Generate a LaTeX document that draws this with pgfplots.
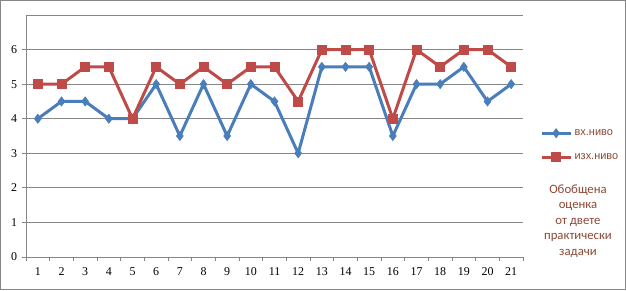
\documentclass[border=0pt]{standalone}
\usepackage{fontspec}
\setmainfont{Liberation Serif}
\newfontfamily\legfont{Liberation Sans}
\newfontfamily\titfont{Carlito}
\usepackage{pgfplots}
\pgfplotsset{compat=1.18}
\definecolor{sblue}{HTML}{4A7EBB}
\definecolor{sred}{HTML}{BE4B48}
\definecolor{gridg}{RGB}{134,134,134}
\definecolor{txtbrown}{RGB}{140,72,52}
\begin{document}
\begin{tikzpicture}[x=1bp,y=1bp]
\draw[gridg,line width=1bp] (0.5,0.5) rectangle (625.5,289.5);
\begin{axis}[
  at={(26bp,33bp)}, anchor=south west,
  scale only axis, width=497bp, height=242bp,
  xmin=0.5, xmax=21.5, ymin=0, ymax=7,
  axis lines*=left,
  axis line style={gridg, line width=0.8bp},
  xtick={1,...,21},
  minor xtick={0.5,1.5,...,21.5},
  ytick={0,...,7},
  minor ytick={0,...,6},
  yticklabels={0,1,2,3,4,5,6,{}},
  tick align=outside,
  major tick length=0bp, minor tick length=4bp,
  tick style={gridg, line width=0.8bp},
  ymajorgrids,
  major grid style={gridg, line width=0.8bp},
  /pgf/number format/assume math mode=true,
  every tick label/.append style={font=\fontsize{12}{14}\selectfont},
  x tick label style={yshift=-7.5bp},
  y tick label style={xshift=-5.5bp},
  legend style={draw=none, fill=none, at={(1.034,0.538)}, anchor=north west,
    font=\legfont\fontsize{11}{13}\selectfont, text=txtbrown,
    row sep=11.5bp, inner sep=0pt, nodes={inner sep=2.5bp}},
  legend cell align=left,
  legend image code/.code={\draw[mark repeat=2,mark phase=2] plot coordinates {(0bp,0bp) (14.5bp,0bp) (29bp,0bp)};},
  clip=false,
]
\addplot[sblue, line width=3bp, mark=diamond*, mark size=4.6bp, mark options={solid, line width=0.6bp}] coordinates {
(1,4) (2,4.5) (3,4.5) (4,4) (5,4) (6,5) (7,3.5) (8,5) (9,3.5) (10,5) (11,4.5)
(12,3) (13,5.5) (14,5.5) (15,5.5) (16,3.5) (17,5) (18,5) (19,5.5) (20,4.5) (21,5)};
\addlegendentry{вх.ниво}
\addplot[sred, line width=3bp, mark=square*, mark size=4.4bp, mark options={solid, line width=0.6bp}] coordinates {
(1,5) (2,5) (3,5.5) (4,5.5) (5,4) (6,5.5) (7,5) (8,5.5) (9,5) (10,5.5) (11,5.5)
(12,4.5) (13,6) (14,6) (15,6) (16,4) (17,6) (18,5.5) (19,6) (20,6) (21,5.5)};
\addlegendentry{изх.ниво}
\end{axis}
\node[align=center, text=txtbrown, font=\titfont\fontsize{12.8}{15.5}\selectfont] at (578,69) {Обобщена\\оценка\\от двете\\практически\\задачи};
\end{tikzpicture}
\end{document}
